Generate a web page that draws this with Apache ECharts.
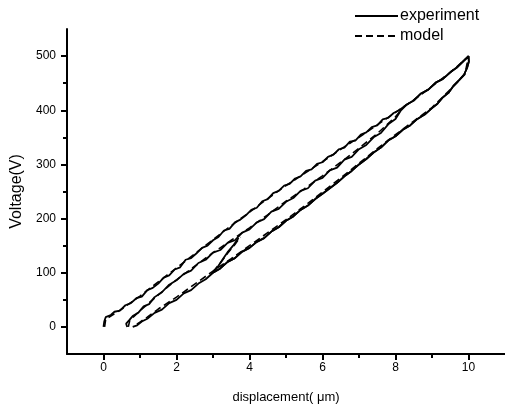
<!DOCTYPE html>
<html>
<head>
<meta charset="utf-8">
<script src="https://cdn.jsdelivr.net/npm/echarts@6/dist/echarts.min.js"></script>
<style>
  html, body { margin: 0; padding: 0; background: #fff; }
  #chart { width: 505px; height: 410px; }
</style>
</head>
<body>
<div id="chart"></div>
<script>
// x = displacement (um), y = voltage (V)
const xLabelValues = [0, 2, 4, 6, 8, 10];
const xMinorValues = [1, 3, 5, 7, 9];
const yLabelValues = [0, 100, 200, 300, 400, 500];
const yMinorValues = [50, 150, 250, 350, 450];

// measured: rising branch (upper-left)
const expRiseA = [
  [0, 0], [0.02, 10], [0.06, 18], [0.2, 22], [0.3, 28], [0.45, 30], [0.6, 40], [0.75, 44],
  [0.9, 53], [1.05, 56], [1.2, 68], [1.35, 72], [1.5, 80], [1.65, 91], [1.8, 95], [1.95, 106],
  [2.1, 110], [2.25, 124], [2.4, 127], [2.55, 136], [2.7, 146], [2.85, 150], [3.0, 160],
  [3.15, 166], [3.3, 178], [3.45, 181], [3.6, 193], [3.75, 198], [3.9, 206], [4.05, 216],
  [4.2, 220], [4.35, 232], [4.5, 236], [4.65, 247], [4.8, 251], [4.95, 261], [5.1, 264],
  [5.25, 274], [5.4, 278], [5.55, 288], [5.7, 291], [5.85, 301], [6.0, 304], [6.15, 314],
  [6.3, 318], [6.45, 328], [6.6, 331], [6.75, 342], [6.9, 344], [7.05, 355], [7.2, 359],
  [7.35, 369], [7.5, 372], [7.65, 383], [7.8, 386], [7.95, 395], [8.1, 400], [8.3, 410],
  [8.5, 418], [8.7, 431], [8.9, 438], [9.1, 451], [9.3, 458], [9.5, 470], [9.7, 480],
  [9.85, 490], [10.0, 500]
];
// measured: falling branch (lower-right)
const expFallC = [
  [10.0, 500], [10.01, 490], [9.96, 478], [9.88, 466], [9.75, 456], [9.6, 446], [9.45, 432],
  [9.3, 424], [9.15, 412], [9.0, 404], [8.8, 392], [8.6, 384], [8.4, 372], [8.2, 364],
  [8.0, 352], [7.8, 344], [7.6, 331], [7.4, 322], [7.2, 310], [7.0, 300], [6.8, 288],
  [6.6, 278], [6.4, 266], [6.2, 256], [6.0, 246], [5.8, 236], [5.6, 224], [5.4, 216],
  [5.2, 204], [5.0, 196], [4.8, 184], [4.6, 176], [4.4, 164], [4.2, 157], [4.0, 146],
  [3.8, 139], [3.6, 127], [3.4, 120], [3.2, 108], [3.0, 100], [2.8, 88], [2.6, 80],
  [2.4, 68], [2.2, 62], [2.0, 50], [1.8, 44], [1.6, 32], [1.4, 26], [1.2, 15], [1.05, 10],
  [0.92, 3], [0.8, 0]
];
// measured: second rising branch (middle), joins the upper branch near 400 V
const expRiseB = [
  [0.65, 0], [0.62, 6], [0.7, 12], [0.8, 20], [0.95, 26], [1.1, 38], [1.25, 42], [1.4, 55],
  [1.6, 64], [1.8, 78], [2.0, 86], [2.2, 98], [2.4, 104], [2.6, 118], [2.8, 124], [3.0, 137],
  [3.2, 142], [3.4, 155], [3.6, 160], [3.8, 174], [4.0, 180], [4.2, 193], [4.4, 199],
  [4.6, 213], [4.8, 218], [5.0, 231], [5.2, 238], [5.4, 251], [5.6, 256], [5.8, 270],
  [6.0, 275], [6.2, 289], [6.4, 294], [6.6, 309], [6.8, 314], [7.0, 328], [7.2, 336],
  [7.4, 350], [7.6, 358], [7.8, 374], [8.0, 384], [8.15, 400], [8.3, 410], [8.5, 418],
  [8.7, 431], [8.9, 438], [9.1, 451], [9.3, 458], [9.5, 470], [9.7, 480], [9.85, 490],
  [10.0, 500]
];
// measured: reversal at 100 V back up to the middle branch
const expTurn = [[3.0, 100], [3.1, 108], [3.2, 118], [3.3, 128], [3.4, 138], [3.55, 150], [3.7, 164]];

const modelRiseA = [
  [0.03, 0], [0.06, 14], [0.5, 33], [1.0, 57], [1.5, 83], [2.0, 109], [2.5, 135], [3.0, 161],
  [3.5, 187], [4.0, 212], [4.5, 237], [5.0, 261], [5.5, 283], [6.0, 305], [6.5, 328],
  [7.0, 350], [7.5, 373], [8.0, 396], [8.5, 419], [9.0, 444], [9.5, 470], [10.0, 499]
];
const modelFallC = [
  [10.0, 499], [9.9, 466], [9.5, 438], [9.0, 405], [8.5, 380], [8.0, 355], [7.5, 329],
  [7.0, 302], [6.5, 275], [6.0, 249], [5.5, 223], [5.0, 198], [4.5, 174], [4.0, 150],
  [3.5, 126], [3.0, 103], [2.5, 79], [2.0, 55], [1.5, 33], [1.2, 18], [1.0, 9], [0.85, 2]
];
const modelRiseB = [
  [0.68, 0], [0.72, 12], [1.0, 30], [1.5, 59], [2.0, 87], [2.5, 112], [3.0, 137], [3.5, 160],
  [4.0, 183], [4.5, 207], [5.0, 232], [5.5, 255], [6.0, 279], [6.5, 304], [7.0, 330],
  [7.5, 357], [8.0, 388], [8.2, 404]
];
const modelTurn = [[3.0, 102], [3.2, 118], [3.4, 136], [3.6, 152], [3.75, 166]];

const chart = echarts.init(document.getElementById('chart'), null, { renderer: 'canvas' });

const font = '"Liberation Sans", Arial, sans-serif';

const expLine = (data) => ({
  name: 'experiment',
  type: 'line',
  data: data,
  symbol: 'none',
  lineStyle: { color: '#000', width: 1.8 },
  itemStyle: { color: '#000' }
});
const modelLine = (data) => ({
  name: 'model',
  type: 'line',
  data: data,
  symbol: 'none',
  lineStyle: { color: '#000', width: 1.6, type: [7, 4] },
  itemStyle: { color: '#000' }
});

const option = {
  animation: false,
  backgroundColor: '#fff',
  grid: { left: 67, right: -2, top: 29, bottom: 56 },
  legend: {
    orient: 'vertical',
    left: 354,
    top: 8,
    padding: 0,
    itemWidth: 43,
    itemHeight: 14,
    itemGap: 4,
    data: ['experiment', 'model'],
    itemStyle: { opacity: 0 },
    lineStyle: { width: 2 },
    textStyle: { fontFamily: font, fontSize: 16, color: '#000', padding: [0, 0, 0, -3] }
  },
  xAxis: [
    {
      type: 'value',
      min: -1,
      max: 11,
      name: 'displacement( \u03bcm)',
      nameLocation: 'middle',
      nameGap: 37,
      nameTextStyle: { fontFamily: font, fontSize: 13, color: '#000' },
      axisLine: { onZero: false, lineStyle: { color: '#000', width: 2 } },
      axisTick: { customValues: xLabelValues, length: 6, inside: false, lineStyle: { color: '#000', width: 2 } },
      axisLabel: { customValues: xLabelValues, margin: 8, fontFamily: font, fontSize: 12, color: '#000' },
      splitLine: { show: false }
    },
    {
      type: 'value',
      min: -1,
      max: 11,
      position: 'bottom',
      axisLine: { show: false, onZero: false },
      axisTick: { customValues: xMinorValues, length: 4, lineStyle: { color: '#000', width: 2 } },
      axisLabel: { show: false },
      splitLine: { show: false }
    }
  ],
  yAxis: [
    {
      type: 'value',
      min: -50,
      max: 550,
      name: 'Voltage(V)',
      nameLocation: 'middle',
      nameGap: 42,
      nameTextStyle: { fontFamily: font, fontSize: 16, color: '#000' },
      axisLine: { show: true, onZero: false, lineStyle: { color: '#000', width: 2 } },
      axisTick: { show: true, customValues: yLabelValues, length: 6, lineStyle: { color: '#000', width: 2 } },
      axisLabel: { customValues: yLabelValues, margin: 11, fontFamily: font, fontSize: 12, color: '#000' },
      splitLine: { show: false }
    },
    {
      type: 'value',
      min: -50,
      max: 550,
      position: 'left',
      axisLine: { show: false, onZero: false },
      axisTick: { show: true, customValues: yMinorValues, length: 4, lineStyle: { color: '#000', width: 2 } },
      axisLabel: { show: false },
      splitLine: { show: false }
    }
  ],
  series: [
    expLine(expRiseA.concat(expFallC)),
    expLine(expRiseB.concat(expFallC.slice(0, 40))),
    expLine(expTurn),
    modelLine(modelRiseA.concat(modelFallC)),
    modelLine(modelRiseB),
    modelLine(modelTurn)
  ]
};

chart.setOption(option);
</script>
</body>
</html>
